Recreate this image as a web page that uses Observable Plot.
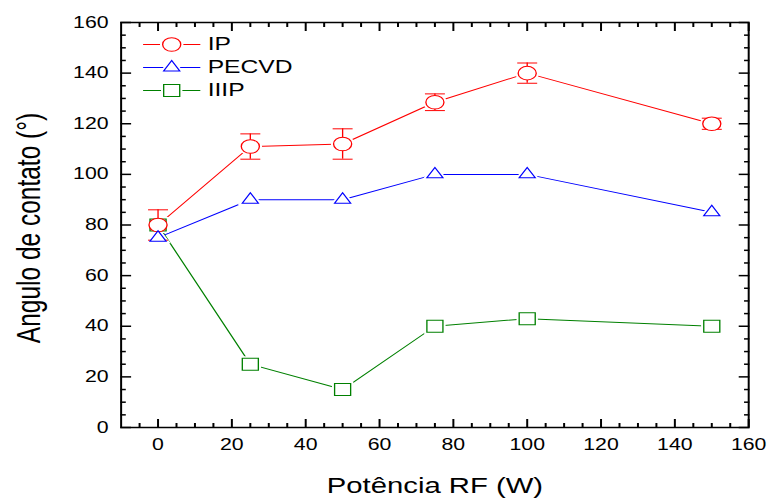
<!DOCTYPE html>
<html>
<head>
<meta charset="utf-8">
<script src="https://cdn.jsdelivr.net/npm/d3@7"></script>
<script src="https://cdn.jsdelivr.net/npm/@observablehq/plot@0.6"></script>
<style>
  html, body { margin: 0; padding: 0; background: #fff; }
  #chart { width: 768px; height: 499px; overflow: hidden; }
  #chart svg { transform-origin: 0 0; max-width: none; }
</style>
</head>
<body>
<div id="chart"></div>
<script>
// Contact angle versus RF power for three treatments
const powers = [0, 25, 50, 75, 100, 150];
const ipAngle = [80, 111, 112, 128.5, 140, 120];
const ipError = [6, 5, 6, 3.3, 4, 2.2];
const pecvdAngle = [75, 90, 90, 100, 100, 85];
const iiipAngle = [80, 25, 15, 40, 43, 40];

const seriesNames = ["IP", "PECVD", "IIIP"];
const seriesColors = ["#ff0000", "#0000ff", "#008000"];
const seriesSymbols = ["circle", "triangle", "square"];

const xTicks = [0, 20, 40, 60, 80, 100, 120, 140, 160];
const yTicks = [0, 20, 40, 60, 80, 100, 120, 140, 160];
const xTitle = "Potência RF (W)";
const yTitle = "Angulo de contato (°)";

// The chart is laid out on a narrower canvas and widened horizontally
const W = 577, H = 499, STRETCH = 768 / W;

const xMinor = d3.range(-5, 160, 5).filter(v => v % 20 !== 0);
const yMinor = d3.range(5, 160, 5).filter(v => v % 20 !== 0);

const symbolRadius = {circle: 6.8, triangle: 4.5, square: 6.8};

// Horizontal segment symbol for error-bar caps and legend lines
const hline = {
  draw(context, size) {
    const h = Math.sqrt(size / Math.PI);
    context.moveTo(-h, 0);
    context.lineTo(h, 0);
  }
};

const rows = (values) => powers.map((p, i) => ({x: p, y: values[i]}));
const ipRows = powers.map((p, i) => ({x: p, y: ipAngle[i], e: ipError[i]}));
const pecvdRows = rows(pecvdAngle);
const iiipRows = rows(iiipAngle);
const seriesRows = [ipRows, pecvdRows, iiipRows];

// marker layers: white halo that opens a gap in the lines, then the outlined symbol
function haloMarks(data, k) {
  return Plot.dot(data, {x: "x", y: "y", symbol: seriesSymbols[k], r: symbolRadius[seriesSymbols[k]],
    fill: "white", stroke: "white", strokeWidth: 4});
}
function markerMarks(data, k) {
  return Plot.dot(data, {x: "x", y: "y", symbol: seriesSymbols[k], r: symbolRadius[seriesSymbols[k]],
    fill: "white", stroke: seriesColors[k], strokeWidth: 1});
}

const drawOrder = [2, 0, 1];

const capRows = ipRows.flatMap(d => [{x: d.x, y: d.y + d.e}, {x: d.x, y: d.y - d.e}]);

const legendMarks = seriesNames.flatMap((name, k) => {
  const dy = 22 + 23 * k;
  const base = {frameAnchor: "top-left", dy};
  return [
    Plot.dot([name], {...base, dx: 38, symbol: hline, r: 21.5, fill: "none", stroke: seriesColors[k], strokeWidth: 1}),
    Plot.dot([name], {...base, dx: 38, symbol: seriesSymbols[k], r: symbolRadius[seriesSymbols[k]], fill: "white", stroke: "white", strokeWidth: 4}),
    Plot.dot([name], {...base, dx: 38, symbol: seriesSymbols[k], r: symbolRadius[seriesSymbols[k]], fill: "white", stroke: seriesColors[k], strokeWidth: 1}),
    Plot.text([name], {...base, dx: 65, text: d => d, textAnchor: "start", lineAnchor: "middle", fontSize: 18.5, fill: "black"})
  ];
});

const chart = Plot.plot({
  width: W,
  height: H,
  marginLeft: 90.5,
  marginRight: 15,
  marginTop: 22,
  marginBottom: 72,
  x: {domain: [-10, 160]},
  y: {domain: [0, 160]},
  style: {
    fontFamily: "'Liberation Sans', Arial, Helvetica, sans-serif",
    fontSize: "16px",
    color: "black",
    background: "white",
    overflow: "visible"
  },
  marks: [
    // connecting lines
    ...drawOrder.map(k => Plot.line(seriesRows[k], {x: "x", y: "y", stroke: seriesColors[k], strokeWidth: 1})),
    // halos around every marker
    ...drawOrder.map(k => haloMarks(seriesRows[k], k)),
    // error bars of the IP series
    Plot.ruleX(ipRows, {x: "x", y1: d => d.y - d.e, y2: d => d.y + d.e, stroke: seriesColors[0], strokeWidth: 1}),
    Plot.dot(capRows, {x: "x", y: "y", symbol: hline, r: 7.5, fill: "none", stroke: seriesColors[0], strokeWidth: 1}),
    // markers
    ...drawOrder.map(k => markerMarks(seriesRows[k], k)),
    // inward ticks on all four sides
    Plot.axisX(xTicks, {anchor: "bottom", tickSize: -8, strokeWidth: 1.5, fill: "none", label: null}),
    Plot.axisX(xMinor, {anchor: "bottom", tickSize: -4, strokeWidth: 1.5, fill: "none", label: null}),
    Plot.axisX(xTicks, {anchor: "top", tickSize: -8, strokeWidth: 1.5, fill: "none", label: null}),
    Plot.axisX(xMinor, {anchor: "top", tickSize: -4, strokeWidth: 1.5, fill: "none", label: null}),
    Plot.axisY(yTicks, {anchor: "left", tickSize: -8, strokeWidth: 1.5, fill: "none", label: null}),
    Plot.axisY(yMinor, {anchor: "left", tickSize: -4, strokeWidth: 1.5, fill: "none", label: null}),
    Plot.axisY(yTicks, {anchor: "right", tickSize: -8, strokeWidth: 1.5, fill: "none", label: null}),
    Plot.axisY(yMinor, {anchor: "right", tickSize: -4, strokeWidth: 1.5, fill: "none", label: null}),
    // tick labels
    Plot.axisX(xTicks, {anchor: "bottom", tickSize: 0, tickPadding: 11.5, fontSize: 16, label: null}),
    Plot.axisY(yTicks, {anchor: "left", tickSize: 0, tickPadding: 9.4, fontSize: 16, label: null}),
    Plot.frame({stroke: "black", strokeWidth: 1.5}),
    // axis titles
    Plot.text([xTitle], {frameAnchor: "bottom", dy: 58.5, lineAnchor: "middle", textAnchor: "middle", text: d => d, fontSize: 22, fill: "black"}),
    Plot.text([yTitle], {frameAnchor: "left", dx: -68.7, dy: 3, rotate: -90, lineAnchor: "middle", textAnchor: "middle", text: d => d, fontSize: 24.5, fill: "black"}),
    // legend
    ...legendMarks
  ]
});

chart.style.transform = `scaleX(${STRETCH})`;
document.getElementById("chart").appendChild(chart);
</script>
</body>
</html>
